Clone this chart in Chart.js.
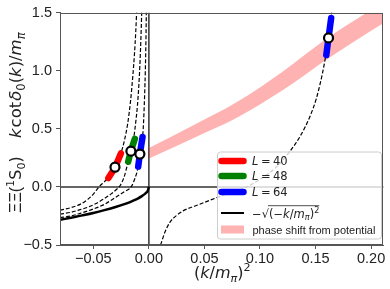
<!DOCTYPE html>
<html><head><meta charset="utf-8">
<script src="https://cdn.jsdelivr.net/npm/chart.js@4/dist/chart.umd.min.js"></script>
<style>html,body{margin:0;padding:0;background:#fff;}#wrap{width:390px;height:289px;}</style>
</head><body><div id="wrap"><canvas id="c" width="390" height="289"></canvas></div>
<script>
// ---- tick labels ----
const xTicks = [-0.05, 0.00, 0.05, 0.10, 0.15, 0.20];
const yTicks = [-0.5, 0.0, 0.5, 1.0, 1.5];

// ---- dashed Luscher curves ----
const curveL40X = [-0.08,-0.07,-0.062,-0.055,-0.05,-0.045,-0.04,-0.0365,-0.0305,-0.0252,-0.022,-0.019,-0.0165,-0.0145,-0.013,-0.0118,-0.0108];
const curveL40Y = [-0.200,-0.178,-0.150,-0.107,-0.062,0.0,0.045,0.08,0.17,0.288,0.40,0.55,0.74,0.95,1.14,1.34,1.55];
const curveL48X = [-0.08,-0.07,-0.062,-0.055,-0.048,-0.04,-0.034,-0.029,-0.026,-0.0225,-0.0186,-0.0162,-0.0135,-0.0118,-0.0103,-0.009,-0.008,-0.0071,-0.0063];
const curveL48Y = [-0.234,-0.218,-0.196,-0.175,-0.145,-0.10,-0.06,-0.02,0.01,0.08,0.218,0.308,0.43,0.56,0.70,0.88,1.07,1.30,1.55];
const curveL64X = [-0.08,-0.07,-0.062,-0.05,-0.04,-0.03,-0.022,-0.016,-0.0125,-0.0096,-0.0081,-0.0068,-0.0057,-0.0051,-0.0045,-0.0038,-0.0032,-0.0028,-0.0025,-0.0022];
const curveL64Y = [-0.263,-0.25,-0.228,-0.19,-0.15,-0.09,-0.04,0.0,0.075,0.175,0.283,0.36,0.43,0.5,0.62,0.8,1.0,1.18,1.36,1.55];
const curveL64bX = [0.0105,0.0114,0.014,0.0189,0.025,0.0308,0.0458,0.0608,0.075,0.088,0.1,0.1135,0.1267,0.137,0.1447,0.1507,0.155,0.158,0.1617,0.1641,0.1648];
const curveL64bY = [-0.5,-0.475,-0.40,-0.305,-0.245,-0.206,-0.149,-0.093,-0.045,0.0,0.065,0.16,0.303,0.45,0.6,0.76,0.924,1.065,1.283,1.455,1.55];

// ---- -sqrt(-(k/m)^2) solid curve ----
const sqrtX = [-0.08,-0.07,-0.06,-0.05,-0.04,-0.03,-0.02,-0.015,-0.01,-0.006,-0.003,-0.001,0.0];
const sqrtY = [-0.283,-0.265,-0.245,-0.224,-0.2,-0.173,-0.141,-0.122,-0.1,-0.077,-0.055,-0.032,0.0];

// ---- phase shift from potential band ----
const bandX = [0.0,0.04,0.08,0.12,0.162,0.2,0.211];
const bandLow = [0.245,0.42,0.60,0.83,1.11,1.345,1.41];
const bandHigh = [0.335,0.53,0.735,0.99,1.29,1.525,1.595];

// ---- lattice data: error segments along curves and central values ----
const segL40X = [-0.0365,-0.0305,-0.0252];
const segL40Y = [0.076,0.17,0.288];
const segL48X = [-0.0186,-0.0162,-0.0126];
const segL48Y = [0.218,0.308,0.415];
const segL64X = [-0.0096,-0.0081,-0.0057];
const segL64Y = [0.175,0.283,0.43];
const segL64bX = [0.1597,0.1617,0.1641];
const segL64bY = [1.136,1.283,1.455];
const centX = [-0.0305,-0.0162,-0.0081,0.1617];
const centY = [0.17,0.308,0.283,1.283];

const TXT = "'Liberation Sans', Arial, sans-serif";
const MATH = "'DejaVu Sans', sans-serif";
const pts = (xs, ys) => xs.map((x, i) => ({x, y: ys[i]}));
const fmt = (v, d) => (v < -1e-9 ? '\u2212' : '') + Math.abs(v).toFixed(d);

function dashed(xs, ys) {
  return {data: pts(xs, ys), showLine: true, pointRadius: 0, borderColor: '#000', borderWidth: 1.2,
    borderDash: [4, 2], cubicInterpolationMode: 'monotone', order: 5};
}
function seg(xs, ys, col) {
  return {data: pts(xs, ys), showLine: true, pointRadius: 0, borderColor: col, borderWidth: 6.5,
    borderCapStyle: 'round', tension: 0.3, order: 2};
}

function drawRich(ctx, segs, x, y, size) {
  let cx = x;
  for (const s of segs) {
    if (s.gap) { cx += s.gap; continue; }
    const sz = s.pos ? size * 0.7 : size;
    const dy = s.pos === 'sub' ? size * 0.22 : s.pos === 'sup' ? -size * 0.42 : 0;
    ctx.font = (s.it ? 'italic ' : '') + sz + 'px ' + (s.fam || MATH);
    ctx.fillText(s.t, cx, y + dy);
    cx += ctx.measureText(s.t).width + (s.sp || 0);
  }
  return cx;
}

const deco = {
  id: 'deco',
  beforeDatasetsDraw(chart) {
    const {ctx, chartArea: a, scales: {x, y}} = chart;
    ctx.save();
    ctx.strokeStyle = '#333'; ctx.lineWidth = 1.5;
    const x0 = x.getPixelForValue(0), y0 = y.getPixelForValue(0);
    ctx.beginPath(); ctx.moveTo(a.left, y0); ctx.lineTo(a.right, y0);
    ctx.moveTo(x0, a.top); ctx.lineTo(x0, a.bottom); ctx.stroke();
    ctx.restore();
  },
  afterDraw(chart) {
    const {ctx, chartArea: a} = chart;
    ctx.save();
    // frame
    ctx.strokeStyle = '#555'; ctx.lineWidth = 1;
    ctx.strokeRect(Math.round(a.left) + 0.5, Math.round(a.top) + 0.5, Math.round(a.right - a.left) - 1, Math.round(a.bottom - a.top) - 1);
    // legend
    const lx = 217.5, ly = 152, lw = 164, lh = 87, r = 3;
    ctx.beginPath();
    ctx.moveTo(lx + r, ly); ctx.lineTo(lx + lw - r, ly); ctx.quadraticCurveTo(lx + lw, ly, lx + lw, ly + r);
    ctx.lineTo(lx + lw, ly + lh - r); ctx.quadraticCurveTo(lx + lw, ly + lh, lx + lw - r, ly + lh);
    ctx.lineTo(lx + r, ly + lh); ctx.quadraticCurveTo(lx, ly + lh, lx, ly + lh - r);
    ctx.lineTo(lx, ly + r); ctx.quadraticCurveTo(lx, ly, lx + r, ly); ctx.closePath();
    ctx.fillStyle = 'rgba(255,255,255,0.8)'; ctx.fill();
    ctx.strokeStyle = '#cccccc'; ctx.lineWidth = 1; ctx.stroke();
    const rows = [161, 176, 192, 213, 229.5];
    const cols = ['#ff0000', '#008000', '#0000ff'];
    const Ls = ['40', '48', '64'];
    ctx.lineCap = 'round';
    ctx.fillStyle = '#222'; ctx.textBaseline = 'alphabetic'; ctx.textAlign = 'left';
    for (let i = 0; i < 3; i++) {
      ctx.strokeStyle = cols[i]; ctx.lineWidth = 6.5;
      ctx.beginPath(); ctx.moveTo(221.5, rows[i]); ctx.lineTo(243.5, rows[i]); ctx.stroke();
      drawRich(ctx, [{t: 'L', it: true, sp: 2.5}, {t: '=', sp: 2.5}, {t: Ls[i]}], 252, rows[i] + 4.2, 11.5);
    }
    ctx.lineCap = 'butt'; ctx.strokeStyle = '#000'; ctx.lineWidth = 2;
    ctx.beginPath(); ctx.moveTo(221, rows[3]); ctx.lineTo(244, rows[3]); ctx.stroke();
    let ex = drawRich(ctx, [{t: '\u2212'}, {t: '\u221A'}], 252, rows[3] + 4.5, 11.5);
    const sx = ex;
    ex = drawRich(ctx, [{t: '(\u2212'}, {t: 'k', it: true}, {t: '/'}, {t: 'm', it: true}, {t: '\u03C0', it: true, pos: 'sub'}, {t: ')'}, {t: '2', pos: 'sup'}], sx, rows[3] + 4.5, 11.5);
    ctx.strokeStyle = '#222'; ctx.lineWidth = 0.8;
    ctx.beginPath(); ctx.moveTo(sx - 1, rows[3] - 7.3); ctx.lineTo(ex, rows[3] - 7.3); ctx.stroke();
    ctx.fillStyle = 'rgba(255,0,0,0.3)';
    ctx.fillRect(221, rows[4] - 4, 23, 8);
    ctx.fillStyle = '#222';
    ctx.font = '11px ' + TXT;
    ctx.fillText('phase shift from potential', 252.5, rows[4] + 4);
    // x title
    ctx.fillStyle = '#222';
    drawRich(ctx, [{t: '('}, {t: 'k', it: true}, {t: '/'}, {t: 'm', it: true}, {t: '\u03C0', it: true, pos: 'sub'}, {t: ')'}, {t: '2', pos: 'sup'}], 194, 278, 16);
    // y title (rotated)
    ctx.save();
    ctx.translate(21, 213);
    ctx.rotate(-Math.PI / 2);
    drawRich(ctx, [{t: '\u039E\u039E(', fam: TXT}, {t: '1', pos: 'sup'}, {t: 'S'}, {t: '0', pos: 'sub'}, {t: ')'}], 0, 0, 16);
    drawRich(ctx, [{t: 'k', it: true, sp: 1}, {t: 'cot', sp: 1}, {t: '\u03B4', it: true}, {t: '0', pos: 'sub'}, {t: '('}, {t: 'k', it: true}, {t: ')/'}, {t: 'm', it: true}, {t: '\u03C0', it: true, pos: 'sub'}], 75, 0, 16.5);
    ctx.restore();
    ctx.restore();
  }
};

const data = {
  datasets: [
    {data: pts(centX, centY), pointRadius: 4.5, pointBorderWidth: 2.2, pointBackgroundColor: '#fff', pointBorderColor: '#000', showLine: false, order: 0},
    seg(segL40X, segL40Y, '#ff0000'),
    seg(segL48X, segL48Y, '#008000'),
    seg(segL64X, segL64Y, '#0000ff'),
    seg(segL64bX, segL64bY, '#0000ff'),
    {data: pts(sqrtX, sqrtY), showLine: true, pointRadius: 0, borderColor: '#000', borderWidth: 2.5, cubicInterpolationMode: 'monotone', order: 4},
    dashed(curveL40X, curveL40Y),
    dashed(curveL48X, curveL48Y),
    dashed(curveL64X, curveL64Y),
    dashed(curveL64bX, curveL64bY),
    {data: pts(bandX, bandLow), showLine: true, pointRadius: 0, borderWidth: 0, borderColor: 'rgba(0,0,0,0)', cubicInterpolationMode: 'monotone', order: 9},
    {data: pts(bandX, bandHigh), showLine: true, pointRadius: 0, borderWidth: 0, borderColor: 'rgba(0,0,0,0)', cubicInterpolationMode: 'monotone', fill: '-1', backgroundColor: 'rgba(255,0,0,0.3)', order: 8}
  ]
};

new Chart(document.getElementById('c'), {
  type: 'scatter',
  data,
  options: {
    responsive: false, animation: false, devicePixelRatio: 1,
    layout: {padding: {top: 8, right: 6, left: 0, bottom: 0}},
    plugins: {legend: {display: false}, tooltip: {enabled: false}},
    scales: {
      x: {
        type: 'linear', min: -0.08, max: 0.211,
        afterBuildTicks: s => { s.ticks = xTicks.map(v => ({value: v})); },
        afterFit: s => { s.height = 44; },
        ticks: {callback: v => fmt(v, 2), color: '#222', font: {family: TXT, size: 14.5}, padding: 1, maxRotation: 0, autoSkip: false},
        grid: {drawOnChartArea: false, drawTicks: true, tickLength: 4, tickColor: '#555'},
        border: {display: true, color: '#555', width: 1}
      },
      y: {
        type: 'linear', min: -0.5, max: 1.5,
        afterBuildTicks: s => { s.ticks = yTicks.map(v => ({value: v})); },
        afterFit: s => { s.width = 60; },
        ticks: {callback: v => fmt(v, 1), color: '#222', font: {family: TXT, size: 14.5}, padding: 4, autoSkip: false},
        grid: {drawOnChartArea: false, drawTicks: true, tickLength: 4, tickColor: '#555'},
        border: {display: true, color: '#555', width: 1}
      }
    }
  },
  plugins: [deco]
});
</script></body></html>
